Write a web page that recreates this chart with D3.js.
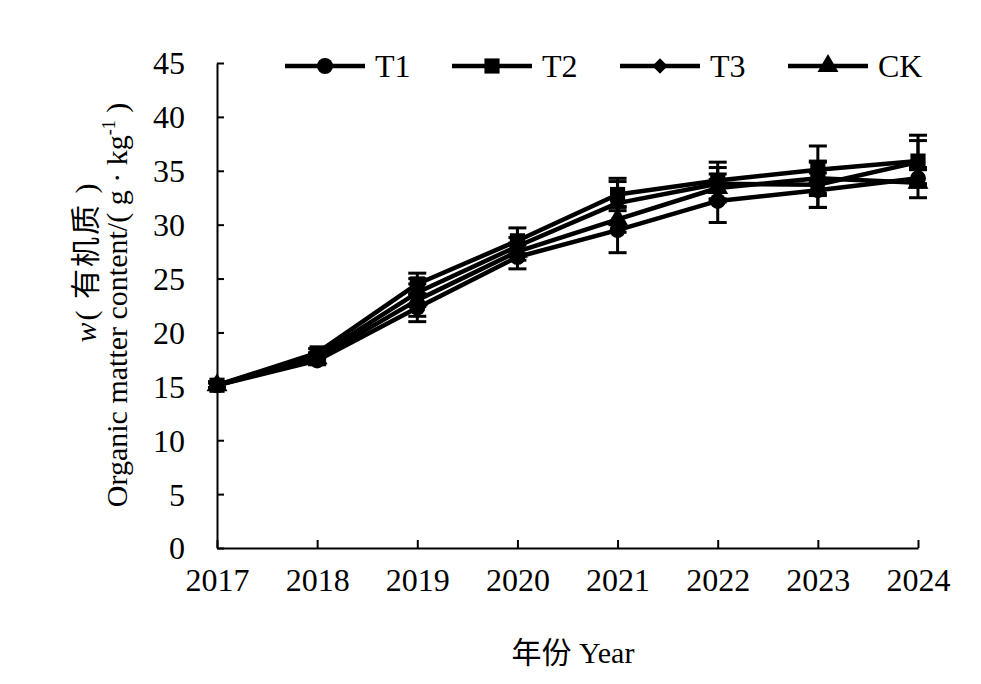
<!DOCTYPE html>
<html>
<head>
<meta charset="utf-8">
<script src="https://cdn.jsdelivr.net/npm/d3@7"></script>
<style>
  html, body { margin: 0; padding: 0; background: #fff; }
  text { font-family: "Liberation Serif", "Noto Sans CJK SC", serif; fill: #000; }
</style>
</head>
<body>
<svg id="chart" width="981" height="684"></svg>
<script>
var years = [2017, 2018, 2019, 2020, 2021, 2022, 2023, 2024];
var yTicks = [0, 5, 10, 15, 20, 25, 30, 35, 40, 45];

var t1 = [15.1, 17.4, 22.3, 27.0, 29.5, 32.2, 33.2, 34.3];
var t2 = [15.1, 18.1, 24.5, 28.5, 32.8, 34.1, 35.1, 35.9];
var t3 = [15.1, 17.8, 23.7, 28.0, 32.0, 33.8, 33.7, 35.8];
var ck = [15.1, 17.6, 23.0, 27.5, 30.5, 33.4, 34.3, 33.9];

var t1Err = [0.3, 0.4, 1.3, 1.1, 2.1, 2.0, 1.6, 0.8];
var t2Err = [0.3, 0.4, 1.0, 1.2, 1.5, 1.7, 2.2, 2.4];
var t3Err = [0.3, 0.3, 1.3, 0.8, 2.0, 1.5, 2.1, 2.0];
var ckErr = [0.2, 0.5, 1.5, 0.8, 1.2, 1.3, 1.6, 1.4];

var seriesNames = ["T1", "T2", "T3", "CK"];
var seriesShapes = [d3.symbolCircle, d3.symbolSquare, d3.symbolDiamond2 || d3.symbolDiamond, d3.symbolTriangle];
var seriesSizes = [200, 230, 150, 190];

var series = [
  { name: seriesNames[0], values: t1, err: t1Err },
  { name: seriesNames[1], values: t2, err: t2Err },
  { name: seriesNames[2], values: t3, err: t3Err },
  { name: seriesNames[3], values: ck, err: ckErr }
];

var svg = d3.select("#chart");
var plotLeft = 217, plotRight = 918, plotTop = 63, plotBottom = 548;

var x = d3.scaleLinear().domain([2017, 2024]).range([plotLeft, plotRight]);
var y = d3.scaleLinear().domain([0, 45]).range([plotBottom, plotTop]);

// axes, ticks pointing inside
var xAxis = d3.axisBottom(x).tickValues(years).tickFormat(d3.format("d"))
  .tickSizeInner(-8).tickSizeOuter(0).tickPadding(20);
var yAxis = d3.axisLeft(y).tickValues(yTicks)
  .tickSizeInner(-7).tickSizeOuter(0).tickPadding(32);

var gx = svg.append("g").attr("transform", "translate(0," + plotBottom + ")").call(xAxis);
var gy = svg.append("g").attr("transform", "translate(" + plotLeft + ",0)").call(yAxis);

[gx, gy].forEach(function(g) {
  g.select(".domain").attr("stroke", "#000").attr("stroke-width", 2);
  g.selectAll(".tick line").attr("stroke", "#000").attr("stroke-width", 2);
  g.selectAll(".tick text").attr("font-size", 32)
    .style("font-family", "'Liberation Serif', serif");
});
gx.selectAll(".tick text").attr("dy", "0.71em");
gy.selectAll(".tick text").attr("dy", "0.34em");

var line = d3.line()
  .x(function(d, i) { return x(years[i]); })
  .y(function(d) { return y(d); });

// error bars
var capW = 9;
series.forEach(function(s) {
  var g = svg.append("g").attr("stroke", "#000").attr("stroke-width", 3);
  s.values.forEach(function(v, i) {
    var cx = x(years[i]);
    var hi = y(v + s.err[i]), lo = y(v - s.err[i]);
    g.append("line").attr("x1", cx).attr("x2", cx).attr("y1", hi).attr("y2", lo);
    g.append("line").attr("x1", cx - capW).attr("x2", cx + capW).attr("y1", hi).attr("y2", hi);
    g.append("line").attr("x1", cx - capW).attr("x2", cx + capW).attr("y1", lo).attr("y2", lo);
  });
});

// lines
series.forEach(function(s) {
  svg.append("path").datum(s.values)
    .attr("d", line)
    .attr("fill", "none")
    .attr("stroke", "#000")
    .attr("stroke-width", 4.5)
    .attr("stroke-linejoin", "round");
});

// markers
series.forEach(function(s, k) {
  var sym = d3.symbol().type(seriesShapes[k]).size(seriesSizes[k]);
  svg.append("g").selectAll("path").data(s.values).join("path")
    .attr("d", sym)
    .attr("transform", function(d, i) { return "translate(" + x(years[i]) + "," + y(d) + ")"; })
    .attr("fill", "#000");
});

// legend
var legendX = [285, 452, 620, 788];
var legendY = 66;
series.forEach(function(s, k) {
  var lx = legendX[k];
  svg.append("line").attr("x1", lx).attr("x2", lx + 80)
    .attr("y1", legendY).attr("y2", legendY)
    .attr("stroke", "#000").attr("stroke-width", 4.5);
  svg.append("path")
    .attr("d", d3.symbol().type(seriesShapes[k]).size(seriesSizes[k])())
    .attr("transform", "translate(" + (lx + 40) + "," + legendY + ")")
    .attr("fill", "#000");
  svg.append("text").attr("x", lx + 90).attr("y", legendY).attr("dy", "0.35em")
    .attr("font-size", 32).text(s.name);
});

// y axis title (two lines)
var yTitle1 = svg.append("text")
  .attr("transform", "translate(96,262) rotate(-90)")
  .attr("text-anchor", "middle").attr("font-size", 30)
  .attr("letter-spacing", 2);
yTitle1.append("tspan").attr("font-style", "italic").text("w");
yTitle1.append("tspan").text("( 有机质 )");

var yTitle2 = svg.append("text")
  .attr("transform", "translate(127,305) rotate(-90)")
  .attr("text-anchor", "middle").attr("font-size", 30);
yTitle2.append("tspan").text("Organic matter content/( g · kg");
yTitle2.append("tspan").attr("font-size", 18).attr("dy", -12).text("-1");
yTitle2.append("tspan").attr("dy", 12).text(" )");

// x axis title
svg.append("text").attr("x", 573).attr("y", 663)
  .attr("text-anchor", "middle").attr("font-size", 30)
  .text("年份 Year");
</script>
</body>
</html>
